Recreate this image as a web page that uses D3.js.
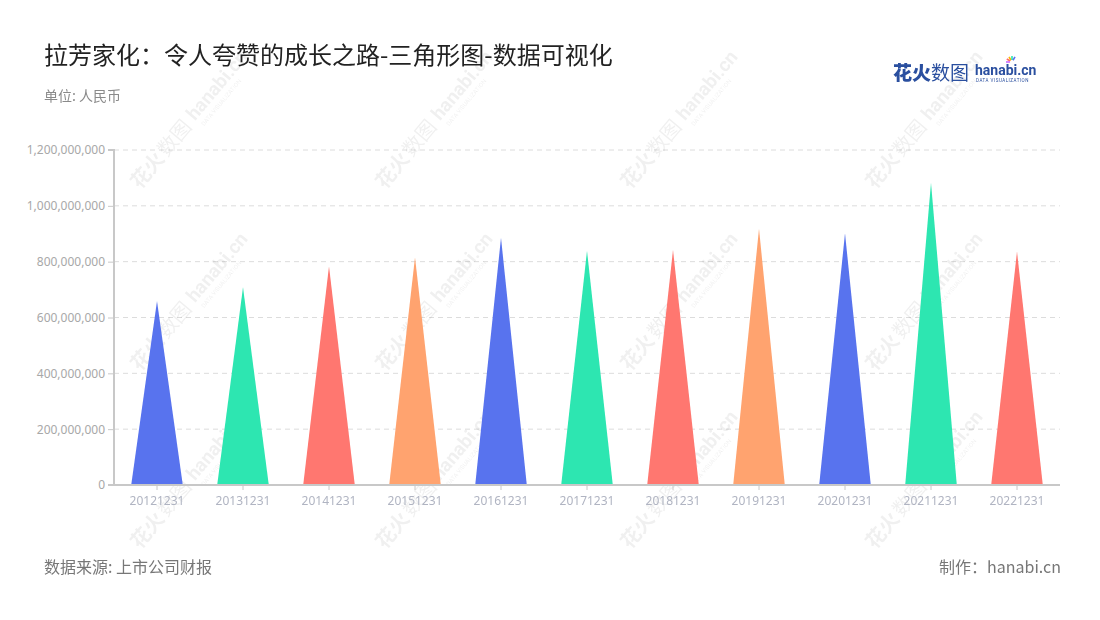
<!DOCTYPE html>
<html><head><meta charset="utf-8">
<script src="https://cdn.jsdelivr.net/npm/d3@7"></script>
<style>
html,body{margin:0;padding:0;background:#fff;}
svg{display:block;font-family:"Noto Sans CJK SC","Noto Sans",sans-serif;}
</style></head>
<body><svg id="c" width="1100" height="620"></svg>
<script>
const categories = ["20121231","20131231","20141231","20151231","20161231","20171231","20181231","20191231","20201231","20211231","20221231"];
const values = [659000000,708000000,784000000,816000000,886000000,839000000,842000000,918000000,902000000,1083000000,836000000];
const yTicks = [0,200000000,400000000,600000000,800000000,1000000000,1200000000];
const palette = ["#5873EE","#2DE6B1","#FF7770","#FFA36F"];
const titleText = "拉芳家化：令人夸赞的成长之路-三角形图-数据可视化";
const unitText = "单位: 人民币";
const sourceText = "数据来源: 上市公司财报";
const makerText = "制作：hanabi.cn";

const svg = d3.select("#c");
const m = {l:114, r:1060, t:150, b:485};

const x = d3.scaleBand().domain(categories).range([m.l, m.r]).padding(0);
const y = d3.scaleLinear().domain([0,1200000000]).range([m.b, m.t]);

// gridlines
svg.append("g").selectAll("line").data(yTicks.slice(1)).join("line")
  .attr("x1", m.l).attr("x2", m.r)
  .attr("y1", d=>y(d)).attr("y2", d=>y(d))
  .attr("stroke","#dcdcdc").attr("stroke-dasharray","5,4").attr("stroke-width",1);

// watermarks
const wm = svg.append("g").attr("opacity",0.06);
const wx = [140,385,630,875], wy = [190,372,550];
wy.forEach(yy=>wx.forEach(xx=>{
  const g = wm.append("g").attr("transform",`translate(${xx},${yy}) rotate(-50)`);
  g.append("text").attr("x",0).attr("y",0).attr("font-size",20).attr("font-weight",700).attr("fill","#000").text("花火");
  g.append("text").attr("x",42).attr("y",0).attr("font-size",20).attr("fill","#000").text("数图");
  g.append("text").attr("x",88).attr("y",-2).attr("font-size",19).attr("font-weight",700).attr("fill","#000").attr("font-family","Roboto,sans-serif").text("hanabi.cn");
  g.append("text").attr("x",90).attr("y",8).attr("font-size",6).attr("fill","#000").attr("font-family","Roboto,sans-serif").text("DATA VISUALIZATION");
}));

// triangles
const tw = x.bandwidth()*0.6;
svg.append("g").selectAll("path").data(categories).join("path")
  .attr("d",(c,i)=>{
    const cx = x(c)+x.bandwidth()/2;
    return `M${cx-tw/2},${y(0)}L${cx},${y(values[i])}L${cx+tw/2},${y(0)}Z`;
  })
  .attr("fill",(c,i)=>palette[i%4]);

// y axis
const ya = svg.append("g").attr("transform",`translate(${m.l},0)`)
  .call(d3.axisLeft(y).tickValues(yTicks).tickSize(6).tickPadding(3).tickFormat(d3.format(",")));
ya.select(".domain").attr("stroke","#c8c8c8").attr("stroke-width",2).attr("d",`M-6,${m.t}H0V${m.b}H-6`);
ya.selectAll(".tick line").attr("stroke","#c8c8c8");
ya.selectAll("text").attr("fill","#a8a8a8").attr("font-size",12).attr("font-family","'Noto Sans',sans-serif");

// x axis
const xa = svg.append("g").attr("transform",`translate(0,${m.b})`)
  .call(d3.axisBottom(x).tickSize(5).tickPadding(6));
xa.select(".domain").attr("stroke","#c8c8c8").attr("stroke-width",2).attr("d",`M${m.l},0H${m.r}`);
xa.selectAll(".tick line").attr("stroke","#c8c8c8");
xa.selectAll("text").attr("fill","#b0b4c2").attr("font-size",12).attr("font-family","'Noto Sans',sans-serif");

// title etc
svg.append("text").attr("x",44).attr("y",64).attr("font-size",24).attr("fill","#222").text(titleText);
svg.append("text").attr("x",44).attr("y",101).attr("font-size",14).attr("fill","#8a8a8a").text(unitText);
svg.append("text").attr("x",44).attr("y",573).attr("font-size",16).attr("fill","#777").text(sourceText);
svg.append("text").attr("x",1061).attr("y",573).attr("font-size",16).attr("fill","#777").attr("text-anchor","end").text(makerText);

// logo
const lg = svg.append("g").attr("transform","translate(893,80)");
lg.append("text").attr("x",0).attr("y",0).attr("font-size",19).attr("font-weight",900).attr("fill","#2a4f9f").text("花火");
lg.append("text").attr("x",38).attr("y",0).attr("font-size",19).attr("fill","#2a4f9f").text("数图");
lg.append("text").attr("x",82).attr("y",-5).attr("font-size",14).attr("font-weight",700).attr("fill","#2a4f9f").attr("font-family","Roboto,sans-serif").text("hanabi.cn");
lg.append("text").attr("x",83).attr("y",2).attr("font-size",4.5).attr("fill","#2a4f9f").attr("font-family","Roboto,sans-serif").attr("letter-spacing",0.5).text("DATA VISUALIZATION");
const sp = [["#ff6b6b",-60],["#ffb400",-30],["#2de6b1",0],["#5873ee",30],["#c86bff",-90]];
sp.forEach(([c,a])=>{
  const r=a*Math.PI/180;
  lg.append("line").attr("x1",119+Math.sin(r)*2).attr("y1",-18-Math.cos(r)*2)
    .attr("x2",119+Math.sin(r)*6).attr("y2",-18-Math.cos(r)*6).attr("stroke",c).attr("stroke-width",1.6);
});
</script></body></html>
